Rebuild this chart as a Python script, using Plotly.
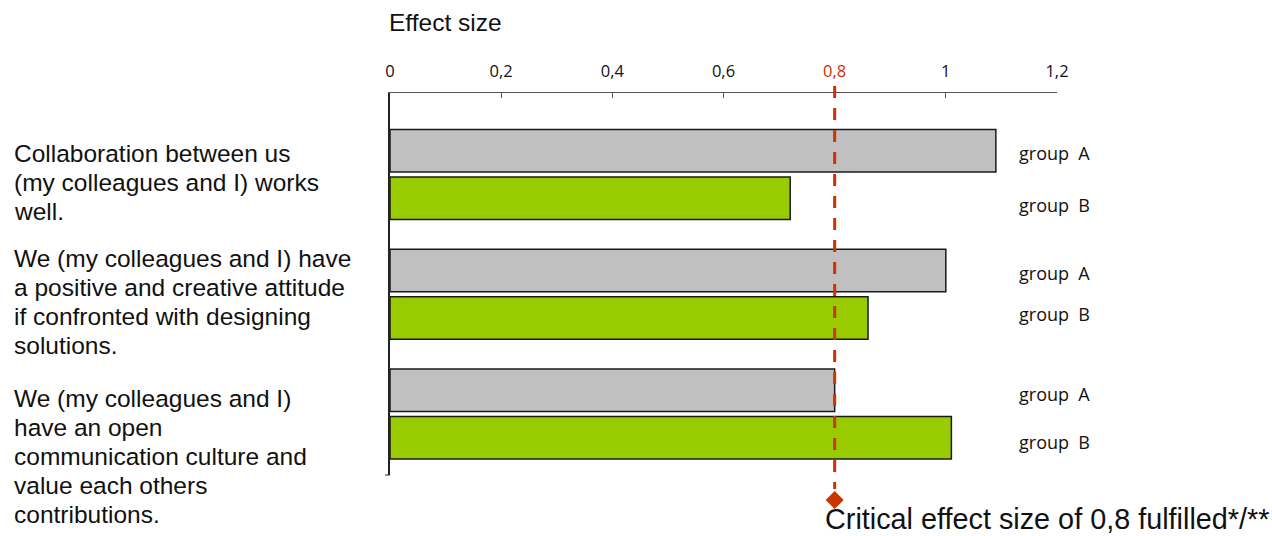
import plotly.graph_objects as go

# ---- data -------------------------------------------------------------
categories = [
    "Collaboration between us\n(my colleagues and I) works\nwell.",
    "We (my colleagues and I) have\na positive and creative attitude\nif confronted with designing\nsolutions.",
    "We (my colleagues and I)\nhave an open\ncommunication culture and\nvalue each others\ncontributions.",
]
group_a = [1.09, 1.00, 0.80]
group_b = [0.72, 0.86, 1.01]
series_names = ["group\u00a0\u00a0A", "group\u00a0\u00a0B"]
x_ticks = [0, 0.2, 0.4, 0.6, 0.8, 1.0, 1.2]
x_tick_labels = ["0", "0,2", "0,4", "0,6", "0,8", "1", "1,2"]
critical_value = 0.8
critical_label = "Critical effect size of 0,8 fulfilled*/**"
axis_title = "Effect size"

# ---- geometry / style ---------------------------------------------------
W, H = 1272, 536
L, R, T, B = 390, 215, 93, 61
PW, PH = W - L - R, H - T - B
Y_TOP, Y_BOT = -0.681, 2.509          # y-axis range (reversed: first item on top)
PPU = PH / (Y_BOT - Y_TOP)            # pixels per y unit
BAR_W = 42.5 / PPU
BAR_OFF = 23.75 / PPU

GREY = "#c0c0c0"
GREEN = "#99cc00"
RED = "#cc3300"
OUTLINE = "#1a1a1a"
LABEL_FONT = "Liberation Sans, Arial, sans-serif"
TICK_FONT = "Open Sans, sans-serif"


def paper_x(px):
    return (px - L) / PW


def paper_y(py):
    return (H - B - py) / PH


idx = list(range(len(categories)))
ya = [i - BAR_OFF for i in idx]
yb = [i + BAR_OFF for i in idx]

fig = go.Figure()
for vals, ys, color in ((group_a, ya, GREY), (group_b, yb, GREEN)):
    fig.add_trace(go.Bar(
        x=vals, y=ys, orientation="h", width=BAR_W,
        marker=dict(color=color, line=dict(color=OUTLINE, width=1.5)),
        hoverinfo="x", showlegend=False,
    ))

shapes = [
    # dashed threshold line
    dict(type="line", xref="x", yref="paper",
         x0=critical_value, x1=critical_value,
         y0=paper_y(86), y1=paper_y(489),
         line=dict(color=RED, width=3, dash="12px,10px")),
    # diamond at the foot of the threshold line
    dict(type="path", xref="x", yref="paper",
         xsizemode="pixel", ysizemode="pixel",
         xanchor=critical_value, yanchor=paper_y(500),
         path="M 0 9 L 9 0 L 0 -9 L -9 0 Z",
         fillcolor=RED, line=dict(color=RED, width=0)),
    # small tick at the foot of the vertical axis
    dict(type="line", xref="paper", yref="paper",
         x0=paper_x(385), x1=paper_x(390), y0=0, y1=0,
         line=dict(color="#333333", width=1)),
]

annotations = []

# category labels, one annotation per line
first_line_px = [153, 258, 398]
line_pitch = 29
for cat, y0 in zip(categories, first_line_px):
    for k, line in enumerate(cat.split("\n")):
        annotations.append(dict(
            text=line, xref="paper", yref="paper",
            x=paper_x(12), y=paper_y(y0 + k * line_pitch),
            xanchor="left", yanchor="middle", showarrow=False,
            font=dict(family=LABEL_FONT, size=24.5, color="#111111"),
        ))

# series labels to the right of each bar pair
series_label_px = [(153, 205), (273, 314), (394, 442)]
for ya_px, yb_px in series_label_px:
    for py, name in ((ya_px, series_names[0]), (yb_px, series_names[1])):
        annotations.append(dict(
            text=name, xref="paper", yref="paper",
            x=paper_x(1017), y=paper_y(py),
            xanchor="left", yanchor="middle", showarrow=False,
            font=dict(family=TICK_FONT, size=18, color="#111111"),
        ))

annotations.append(dict(
    text=axis_title, xref="paper", yref="paper",
    x=paper_x(387), y=paper_y(22), xanchor="left", yanchor="middle",
    showarrow=False, font=dict(family=LABEL_FONT, size=24.5, color="#111111"),
))
annotations.append(dict(
    text=critical_label, xref="paper", yref="paper",
    x=paper_x(823), y=paper_y(519), xanchor="left", yanchor="middle",
    showarrow=False, font=dict(family=LABEL_FONT, size=28.8, color="#111111"),
))

tick_text = [
    f'<span style="color:{RED}">{t}</span>' if v == critical_value else t
    for v, t in zip(x_ticks, x_tick_labels)
]

fig.update_layout(
    width=W, height=H,
    margin=dict(l=L, r=R, t=T, b=B, pad=0),
    paper_bgcolor="white", plot_bgcolor="white",
    barmode="overlay",
    shapes=shapes, annotations=annotations,
    xaxis=dict(
        side="top", range=[0, 1.2], autorange=False,
        tickvals=x_ticks, ticktext=tick_text,
        ticks="inside", ticklen=5, tickwidth=1, tickcolor="#555555",
        showline=True, linecolor="#555555", linewidth=1,
        showgrid=False, zeroline=False,
        tickfont=dict(family=TICK_FONT, size=16.5, color="#111111"),
        ticklabelstandoff=8,
    ),
    yaxis=dict(
        range=[Y_BOT, Y_TOP], autorange=False,
        showline=True, linecolor="#222222", linewidth=1.5,
        showticklabels=False, ticks="", showgrid=False, zeroline=False,
    ),
)

fig.write_html("out.html")
